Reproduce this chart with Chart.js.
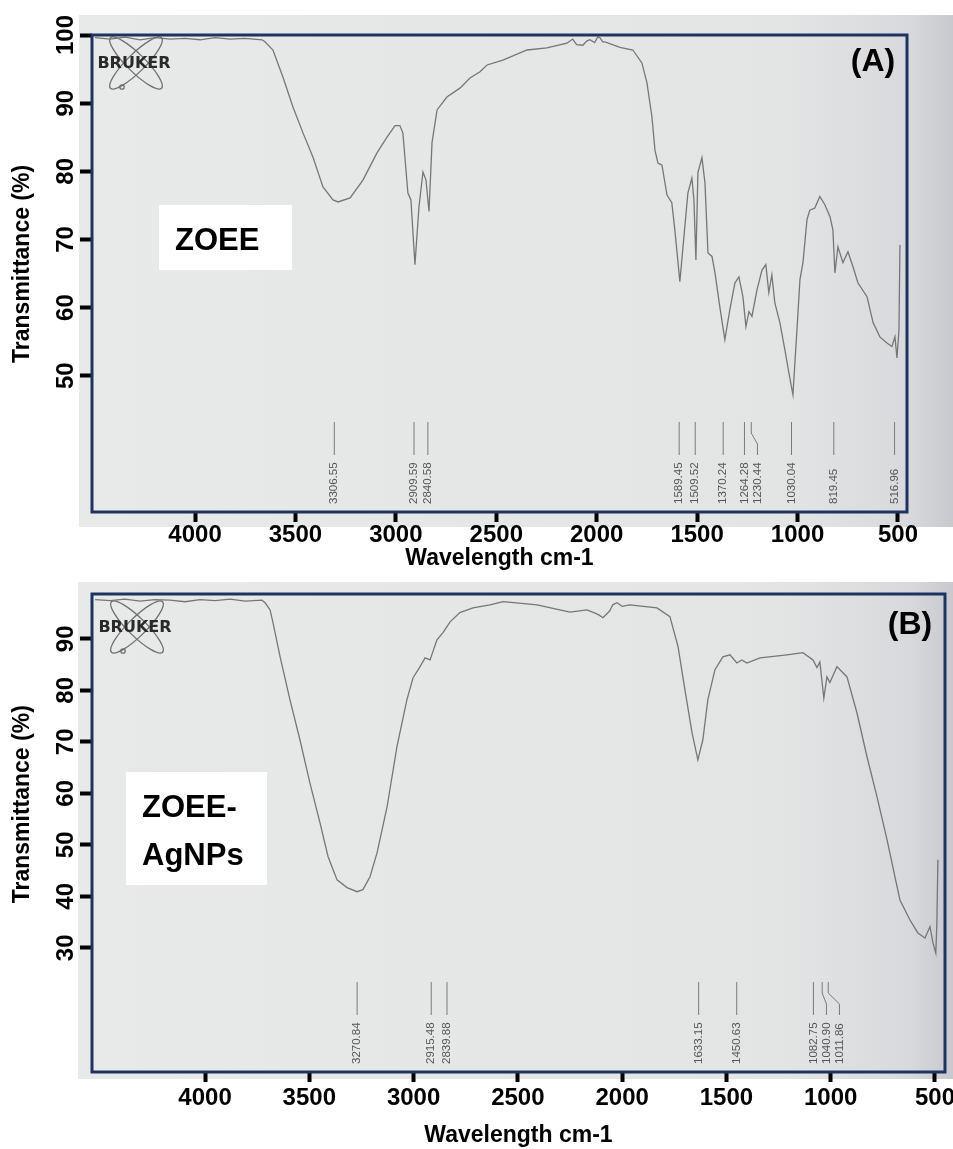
<!DOCTYPE html>
<html lang="en">
<head>
  <meta charset="UTF-8">
  <title>FTIR spectra - ZOEE and ZOEE-AgNPs</title>
  <!-- Chart.js -->
  <script src="https://cdn.jsdelivr.net/npm/chart.js@4.4.1/dist/chart.umd.min.js"></script>
  <style>
    body { margin: 0; background: #fff; }
    .panel { position: absolute; left: 0; width: 953px; }
    #panelA { top: 0; height: 578px; }
    #panelB { top: 578px; height: 571px; }
  </style>
</head>
<body>

  <div class="panel" id="panelA"><canvas id="chartA" width="953" height="578"></canvas></div>
  <div class="panel" id="panelB"><canvas id="chartB" width="953" height="571"></canvas></div>

  <script>
    // (A) ZOEE spectrum
    const zoeeWavenumber = [4498, 4423, 4348, 4274, 4199, 4124, 4050, 3975, 3900, 3826,
      3751, 3666, 3652, 3612, 3562, 3512, 3462, 3413, 3363, 3313,
      3288, 3228, 3164, 3094, 3044, 3004, 2980, 2965, 2940, 2925,
      2905, 2885, 2865, 2850, 2835, 2820, 2795, 2746, 2681, 2631,
      2581, 2546, 2467, 2347, 2248, 2148, 2120, 2100, 2069, 2050,
      2034, 2010, 1995, 1984, 1970, 1959, 1884, 1820, 1775, 1750,
      1725, 1710, 1695, 1675, 1650, 1626, 1611, 1586, 1546, 1526,
      1516, 1506, 1496, 1476, 1461, 1446, 1426, 1411, 1387, 1362,
      1337, 1312, 1292, 1272, 1257, 1242, 1227, 1202, 1177, 1158,
      1143, 1128, 1113, 1088, 1063, 1043, 1023, 1003, 988, 973,
      953, 939, 914, 889, 864, 838, 824, 814, 799, 774,
      749, 724, 699, 654, 624, 590, 555, 530, 515, 505,
      495, 490];
    const zoeeTransmittance = [99.6, 99.4, 99.7, 99.3, 99.6, 99.4, 99.5, 99.3, 99.6, 99.4,
      99.5, 99.3, 99.0, 97.8, 93.8, 89.4, 85.6, 82.1, 77.7, 75.8,
      75.5, 76.1, 78.7, 82.7, 85.0, 86.7, 86.7, 85.6, 76.8, 75.8,
      66.3, 74.8, 79.9, 78.7, 74.1, 84.2, 89.0, 90.9, 92.2, 93.7,
      94.6, 95.6, 96.3, 97.8, 98.1, 98.8, 99.4, 98.6, 98.5, 99.1,
      99.3, 98.9, 99.7, 99.6, 99.0, 99.0, 98.2, 97.8, 95.9, 93.0,
      88.0, 83.1, 81.2, 80.9, 76.5, 75.4, 71.4, 63.8, 76.8, 79.0,
      75.8, 67.0, 79.8, 82.0, 78.3, 68.0, 67.5, 65.1, 60.1, 55.3,
      59.7, 63.6, 64.5, 61.6, 57.2, 59.4, 58.7, 62.6, 65.5, 66.3,
      62.2, 64.8, 60.7, 57.8, 53.8, 50.4, 47.2, 56.7, 64.1, 66.6,
      72.9, 74.3, 74.6, 76.3, 75.1, 73.3, 71.4, 65.1, 68.9, 66.6,
      68.2, 66.0, 63.6, 61.6, 57.8, 55.7, 54.8, 54.3, 55.7, 52.6,
      56.7, 69.2];
    const zoeePeaks = [3306.55, 2909.59, 2840.58, 1589.45, 1509.52, 1370.24, 1264.28, 1230.44, 1030.04, 819.45, 516.96];

    // (B) ZOEE-AgNPs spectrum
    const agWavenumber = [4527, 4455, 4384, 4312, 4240, 4168, 4096, 4024, 3952, 3880,
      3808, 3727, 3712, 3688, 3674, 3640, 3593, 3545, 3497, 3449,
      3410, 3367, 3319, 3271, 3243, 3209, 3175, 3127, 3080, 3032,
      3003, 2969, 2945, 2921, 2888, 2859, 2825, 2778, 2715, 2634,
      2571, 2408, 2250, 2169, 2130, 2110, 2092, 2060, 2045, 2025,
      2000, 1963, 1833, 1771, 1732, 1699, 1665, 1637, 1613, 1589,
      1555, 1517, 1483, 1450, 1426, 1402, 1339, 1210, 1133, 1085,
      1066, 1052, 1033, 1018, 1004, 970, 922, 874, 826, 778,
      730, 692, 668, 620, 582, 548, 524, 510, 496, 491,
      486];
    const agTransmittance = [97.6, 97.4, 97.7, 97.3, 97.6, 97.5, 97.2, 97.6, 97.4, 97.7,
      97.3, 97.5, 97.0, 95.6, 93.1, 86.5, 78.2, 70.4, 62.0, 54.3,
      47.7, 43.2, 41.7, 40.9, 41.3, 43.8, 48.5, 57.4, 69.0, 78.2,
      82.4, 84.6, 86.3, 85.9, 89.8, 91.2, 93.3, 95.1, 96.0, 96.6,
      97.2, 96.6, 95.2, 95.6, 95.0, 94.6, 94.1, 95.4, 96.6, 97.0,
      96.3, 96.6, 96.0, 94.3, 88.5, 80.1, 71.8, 66.5, 70.4, 78.2,
      84.0, 86.5, 86.9, 85.3, 85.9, 85.3, 86.3, 86.9, 87.3, 85.9,
      84.4, 85.5, 78.5, 82.6, 81.5, 84.6, 82.6, 75.6, 67.1, 59.3,
      51.0, 43.8, 39.3, 35.4, 32.9, 31.9, 34.1, 31.0, 29.0, 34.9,
      47.1];
    const agPeaks = [3270.84, 2915.48, 2839.88, 1633.15, 1450.63, 1082.75, 1040.90, 1011.86];

    // tick labels
    const xTicks = [4000, 3500, 3000, 2500, 2000, 1500, 1000, 500];
    const yTicksA = [100, 90, 80, 70, 60, 50];
    const yTicksB = [90, 80, 70, 60, 50, 40, 30];

    const FONT = '"Liberation Sans", Arial, sans-serif';
    Chart.defaults.color = '#000';

    // background photo look, frame, logo, peak picks, labels
    const decor = {
      id: 'decor',
      beforeDraw(chart, args, o) {
        const ctx = chart.ctx;
        const [x0, y0, x1, y1] = o.bg;
        ctx.save();
        const g = ctx.createLinearGradient(x0, 0, x1, 0);
        g.addColorStop(0, '#e8eae9');
        g.addColorStop(0.8, '#e3e5e5');
        g.addColorStop(0.95, '#d8d9dc');
        g.addColorStop(1, '#c8c9ce');
        ctx.fillStyle = g;
        ctx.fillRect(x0, y0, x1 - x0, y1 - y0);
        ctx.restore();
      },
      beforeDatasetsDraw(chart, args, o) {
        const ctx = chart.ctx;
        const { x, y } = o.logo;
        ctx.save();
        ctx.strokeStyle = '#707070';
        ctx.lineWidth = 1.3;
        [0.78, -0.78].forEach(r => {
          ctx.beginPath();
          ctx.ellipse(x + 2, y, 36, 9, r, 0, Math.PI * 2);
          ctx.stroke();
        });
        ctx.beginPath();
        ctx.arc(x - 12, y + 24, 2.2, 0, Math.PI * 2);
        ctx.stroke();
        ctx.fillStyle = '#2a2a2a';
        ctx.font = 'bold 16px "DejaVu Sans", sans-serif';
        ctx.textAlign = 'center';
        ctx.textBaseline = 'middle';
        ctx.fillText('BRUKER', x, y + 1);
        ctx.restore();
      },
      afterDatasetsDraw(chart, args, o) {
        const ctx = chart.ctx;
        const a = chart.chartArea;
        const xs = chart.scales.x;
        ctx.save();

        // peak pick markers
        ctx.strokeStyle = '#7a7a7a';
        ctx.lineWidth = 1;
        ctx.fillStyle = '#555';
        ctx.font = '11.5px ' + FONT;
        let prev = -Infinity;
        o.peaks.forEach(p => {
          const px = xs.getPixelForValue(p);
          const lx = Math.max(px, prev + 13);
          prev = lx;
          ctx.beginPath();
          ctx.moveTo(px, a.bottom - 90);
          if (lx - px > 0.5) {
            ctx.lineTo(px, a.bottom - 79);
            ctx.lineTo(lx, a.bottom - 68);
          }
          ctx.lineTo(lx, a.bottom - 57);
          ctx.stroke();
          ctx.save();
          ctx.translate(lx, a.bottom - 8);
          ctx.rotate(-Math.PI / 2);
          ctx.textAlign = 'left';
          ctx.textBaseline = 'middle';
          ctx.fillText(p.toFixed(2), 0, 0);
          ctx.restore();
        });

        // frame
        ctx.strokeStyle = '#1d3461';
        ctx.lineWidth = 3;
        ctx.strokeRect(a.left, a.top, a.right - a.left, a.bottom - a.top);

        // sample name box
        const b = o.box;
        ctx.fillStyle = '#fff';
        ctx.fillRect(b.x, b.y, b.w, b.h);
        ctx.fillStyle = '#000';
        ctx.font = 'bold 31px ' + FONT;
        ctx.textAlign = 'left';
        ctx.textBaseline = 'alphabetic';
        b.lines.forEach((t, i) => ctx.fillText(t, b.tx, b.ty + i * 48));

        // panel letter
        ctx.font = 'bold 32px ' + FONT;
        ctx.textAlign = 'center';
        ctx.textBaseline = 'middle';
        ctx.fillText(o.letter.text, o.letter.x, o.letter.y);
        ctx.restore();
      }
    };

    function makeChart(id, wn, tr, cfg) {
      const points = wn.map((w, i) => ({ x: w, y: tr[i] }));
      // leading spaces nudge the rotated title up, as in the original figure
      const yTitle = ' '.repeat(cfg.yTitleShift) + 'Transmittance (%)';
      return new Chart(document.getElementById(id), {
        type: 'scatter',
        data: {
          datasets: [{
            data: points,
            showLine: true,
            borderColor: '#767676',
            borderWidth: 1.3,
            pointRadius: 0,
            tension: 0
          }]
        },
        options: {
          responsive: false,
          animation: false,
          events: [],
          layout: { padding: cfg.padding },
          plugins: {
            legend: { display: false },
            tooltip: { enabled: false },
            decor: cfg.decor
          },
          scales: {
            x: {
              type: 'linear',
              reverse: true,
              min: cfg.xMin,
              max: cfg.xMax,
              afterBuildTicks: s => { s.ticks = xTicks.map(v => ({ value: v })); },
              afterFit: s => { s.height = cfg.xHeight; s.paddingLeft = 0; s.paddingRight = 0; },
              border: { display: false },
              grid: { drawOnChartArea: false, drawTicks: true, tickLength: 10, tickWidth: 4, tickColor: '#000' },
              ticks: {
                autoSkip: false, maxRotation: 0, minRotation: 0,
                padding: cfg.xTickPad,
                font: { family: FONT, size: 24, weight: 'bold', lineHeight: 1 },
                callback: v => String(v)
              },
              title: {
                display: true,
                text: 'Wavelength cm-1',
                font: { family: FONT, size: 23, weight: 'bold', lineHeight: 1.2 },
                padding: { top: 0, bottom: cfg.xTitlePad }
              }
            },
            y: {
              type: 'linear',
              min: cfg.yMin,
              max: cfg.yMax,
              afterBuildTicks: s => { s.ticks = cfg.yTicks.map(v => ({ value: v })); },
              afterFit: s => { s.width = 92; s.paddingTop = 0; s.paddingBottom = 0; },
              border: { display: false },
              grid: { drawOnChartArea: false, drawTicks: true, tickLength: 12, tickWidth: 4, tickColor: '#000' },
              ticks: {
                autoSkip: false, minRotation: 90, maxRotation: 90,
                crossAlign: 'center',
                padding: cfg.yTickPad,
                font: { family: FONT, size: 24, weight: 'bold', lineHeight: 1 },
                callback: v => String(v)
              },
              title: {
                display: true,
                text: yTitle,
                font: { family: FONT, size: 23, weight: 'bold', lineHeight: 1.2 },
                padding: { top: 9, bottom: 0 }
              }
            }
          }
        },
        plugins: [decor]
      });
    }

    makeChart('chartA', zoeeWavenumber, zoeeTransmittance, {
      padding: { top: 35, right: 46, left: 0, bottom: 0 },
      xMin: 455, xMax: 4513, yMin: 30, yMax: 100,
      yTicks: yTicksA, xHeight: 66, xTickPad: 1, xTitlePad: 6, yTickPad: -6, yTitleShift: 3,
      decor: {
        bg: [79, 15, 953, 527],
        logo: { x: 134, y: 63 },
        peaks: zoeePeaks,
        box: { x: 159, y: 205, w: 133, h: 65, tx: 175, ty: 250, lines: ['ZOEE'] },
        letter: { text: '(A)', x: 873, y: 62 }
      }
    });

    makeChart('chartB', agWavenumber, agTransmittance, {
      padding: { top: 16, right: 8, left: 0, bottom: 0 },
      xMin: 452, xMax: 4542, yMin: 5.9, yMax: 98.7,
      yTicks: yTicksB, xHeight: 77, xTickPad: 4, xTitlePad: 0, yTickPad: 0, yTitleShift: 9,
      decor: {
        bg: [78, 4, 953, 501],
        logo: { x: 135, y: 49 },
        peaks: agPeaks,
        box: { x: 126, y: 194, w: 141, h: 113, tx: 142, ty: 239, lines: ['ZOEE-', 'AgNPs'] },
        letter: { text: '(B)', x: 910, y: 47 }
      }
    });
  </script>
</body>
</html>
